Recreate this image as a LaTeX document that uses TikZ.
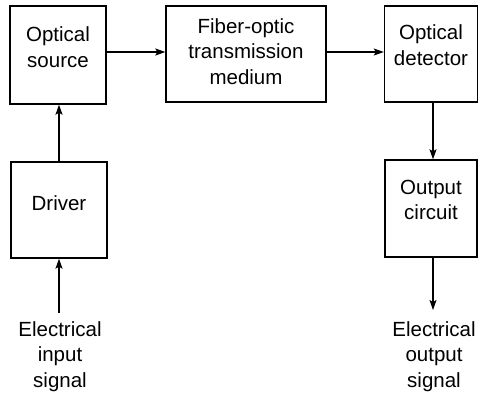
\documentclass[tikz,border=0pt]{standalone}
\usepackage{fontspec}
\setmainfont{Liberation Sans}
\usetikzlibrary{arrows.meta}
\begin{document}
\begin{tikzpicture}[x=1pt,y=-1pt,
  blk/.style={draw,line width=1.4pt,rectangle,inner sep=0pt},
  lbl/.style={align=center,font=\fontsize{20.5}{25.5}\selectfont,inner sep=0pt},
  conn/.style={line width=1.2pt,-{Stealth[length=10pt,width=7pt,inset=2pt]}}]
\useasboundingbox (0,0) rectangle (479,397);
\node[blk,minimum width=96pt,minimum height=98pt] (src) at (58,55) {};
\node[blk,minimum width=160pt,minimum height=96pt] (fib) at (246,54) {};
\node[blk,minimum width=93pt,minimum height=96pt] (det) at (431,54) {};
\node[blk,minimum width=96pt,minimum height=96pt] (drv) at (59,210) {};
\node[blk,minimum width=92pt,minimum height=97pt] (out) at (431,208.5) {};
\node[lbl] (srct) at (58,47) {Optical\\source};
\node[lbl] (fibt) at (246,51.5) {Fiber-optic\\transmission\\medium};
\node[lbl] (dett) at (431,45) {Optical\\detector};
\node[lbl] (drvt) at (59,203) {Driver};
\node[lbl] (outt) at (431,200) {Output\\circuit};
\node[lbl,anchor=north] (inp) at (60,321) {Electrical\\input\\signal};
\node[lbl,anchor=north] (outs) at (434,321) {Electrical\\output\\signal};
\coordinate (inend) at (59,313);
\coordinate (outend) at (433,310);
\draw[conn] (src.east |- 0,52) -- (fib.west |- 0,52);
\draw[conn] (fib.east |- 0,52) -- (det.west |- 0,52);
\draw[conn] (drv.north -| 59,0) -- (src.south -| 59,0);
\draw[conn] (inend) -- (drv.south -| 59,0);
\draw[conn] (det.south -| 433,0) -- (out.north -| 433,0);
\draw[conn] (out.south -| 433,0) -- (outend);
\end{tikzpicture}
\end{document}
